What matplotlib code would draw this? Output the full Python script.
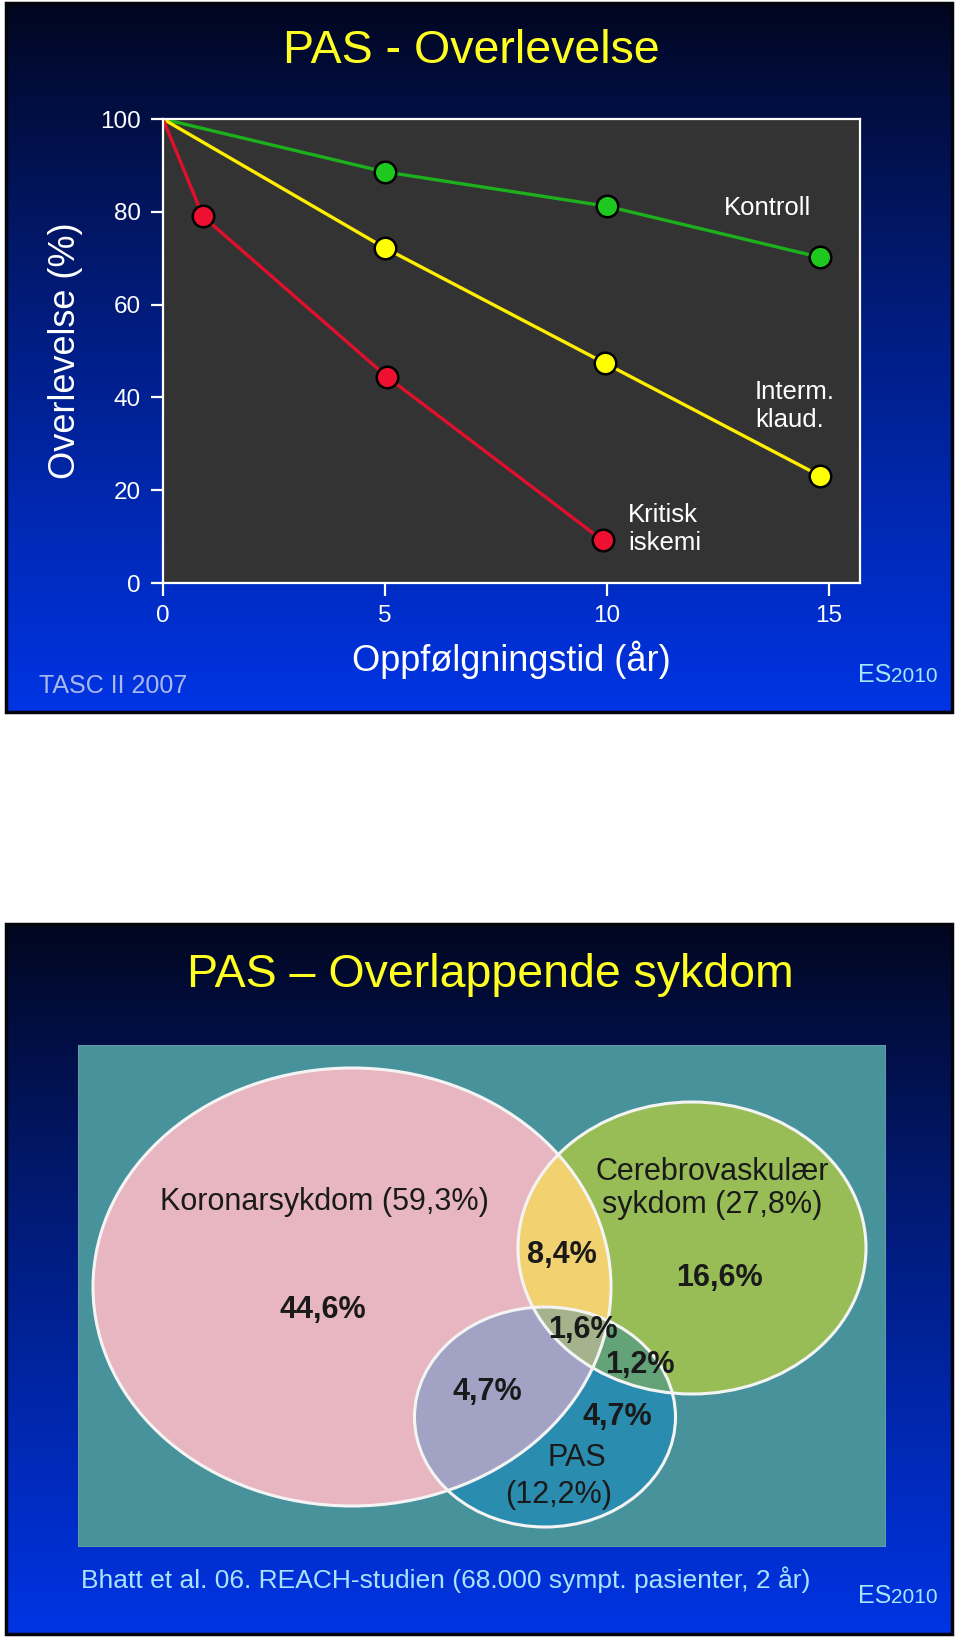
import numpy as np
import matplotlib
matplotlib.use('Agg')
import matplotlib.pyplot as plt
from matplotlib.patches import Ellipse, Rectangle

plt.rcParams['font.family'] = ['Liberation Sans', 'DejaVu Sans']

W, H = 960, 1641

# slide 1: survival (%) vs follow-up time (years)
kontroll_x = [0, 5, 10, 14.8]
kontroll_y = [100, 88.6, 81.2, 70.2]
interm_x = [0, 5, 9.95, 14.8]
interm_y = [100, 72.2, 47.4, 23.1]
kritisk_x = [0, 0.9, 5.05, 9.9]
kritisk_y = [100, 79.0, 44.4, 9.2]
x_ticks = [0, 5, 10, 15]
y_ticks = [0, 20, 40, 60, 80, 100]
series_names = ['Kontroll', 'Interm.\nklaud.', 'Kritisk\niskemi']

# slide 2: overlapping disease (venn)
set_names = ['Koronarsykdom (59,3%)', 'Cerebrovaskulær\nsykdom (27,8%)', 'PAS\n(12,2%)']
region_labels = ['44,6%', '16,6%', '8,4%', '4,7%', '4,7%', '1,6%', '1,2%']

fig = plt.figure(figsize=(W / 100, H / 100), dpi=100)
fig.patch.set_facecolor('white')


def px_axes(x, y, w, h, **kw):
    return fig.add_axes([x / W, 1 - (y + h) / H, w / W, h / H], **kw)


def ftext(x, y, s, **kw):
    return fig.text(x / W, 1 - y / H, s, **kw)


def slide(y0, h):
    ax = px_axes(6, y0, 946, h)
    t = np.linspace(0, 1, 256) ** 0.9
    top = np.array([2, 6, 30]) / 255
    bot = np.array([0, 52, 228]) / 255
    grad = top[None, :] * (1 - t[:, None]) + bot[None, :] * t[:, None]
    ax.imshow(grad[:, None, :], aspect='auto', extent=(0, 1, 1, 0))
    ax.set_xlim(0, 1)
    ax.set_ylim(1, 0)
    ax.set_axis_off()
    ax.add_patch(Rectangle((0, 0), 1, 1, transform=ax.transAxes, fill=False,
                           ec='#04040c', lw=2.5, clip_on=False))
    return ax


def es_mark(y_base):
    ftext(891, y_base, 'ES', color='#a6e6ff', fontsize=18, ha='right', va='baseline')
    ftext(891, y_base, '2010', color='#a6e6ff', fontsize=15, ha='left', va='baseline')


# ---------------- slide 1 ----------------
slide(3, 709)
ftext(471, 63, 'PAS - Overlevelse', color='#ffff22', fontsize=33.5, ha='center', va='baseline')

ax = px_axes(163, 119, 697, 464)
ax.set_facecolor('#333333')
ax.plot(kontroll_x, kontroll_y, color='#1cb01c', lw=2.4, zorder=2)
ax.plot(interm_x, interm_y, color='#ffee00', lw=2.4, zorder=2)
ax.plot(kritisk_x, kritisk_y, color='#e0102c', lw=2.4, zorder=2)
mk = dict(ls='none', marker='o', ms=15.5, mec='black', mew=1.8, zorder=3)
ax.plot(kontroll_x[1:], kontroll_y[1:], mfc='#1ec81e', **mk)
ax.plot(interm_x[1:], interm_y[1:], mfc='#ffff00', **mk)
ax.plot(kritisk_x[1:], kritisk_y[1:], mfc='#ee1030', **mk)

ax.set_xlim(0, 15.7)
ax.set_ylim(0, 100)
ax.set_xticks(x_ticks)
ax.set_yticks(y_ticks)
for s in ax.spines.values():
    s.set_color('white')
    s.set_linewidth(1.6)
ax.tick_params(colors='white', direction='out', length=9, width=1.6,
               labelsize=17.5, pad=7)
ax.set_xlabel('Oppfølgningstid (år)', color='white', fontsize=26, va='center')
ax.xaxis.set_label_coords(0.5, -0.166)
ax.set_ylabel('Overlevelse (%)', color='white', fontsize=26, va='center')
ax.yaxis.set_label_coords(-0.1406, 0.5)

# series labels (line by line)
label_pos = [[(12.64, 80.9)], [(13.33, 41.2), (13.33, 35.2)], [(10.47, 14.7), (10.47, 8.7)]]
for name, pos in zip(series_names, label_pos):
    for line, (lx, ly) in zip(name.split('\n'), pos):
        ax.text(lx, ly, line, color='white', fontsize=18.5, ha='left', va='center')

ftext(39, 693, 'TASC II 2007', color='#aab8f0', fontsize=18, ha='left', va='baseline')
es_mark(682)

# ---------------- slide 2 ----------------
slide(924, 710)
ftext(490, 987, 'PAS – Overlappende sykdom', color='#ffff22', fontsize=33.5, ha='center', va='baseline')

vx0, vy0, vw, vh = 78, 1045, 808, 502
vax = px_axes(vx0, vy0, vw, vh)
vax.set_xlim(vx0, vx0 + vw)
vax.set_ylim(vy0 + vh, vy0)
vax.set_axis_off()

ellipses = [(352, 1287, 259, 219), (692, 1248, 174, 146), (545, 1417, 130.5, 110)]
palette = np.array([
    [72, 146, 156],   # none (background)
    [232, 182, 193],  # koronar
    [152, 190, 86],   # cerebro
    [242, 210, 112],  # koronar + cerebro
    [42, 140, 174],   # PAS
    [162, 162, 196],  # koronar + PAS
    [100, 164, 120],  # cerebro + PAS
    [166, 180, 140],  # all three
]) / 255
xs = np.linspace(vx0, vx0 + vw, vw * 2)
ys = np.linspace(vy0, vy0 + vh, vh * 2)
X, Y = np.meshgrid(xs, ys)
code = np.zeros(X.shape, dtype=int)
for i, (cx, cy, a, b) in enumerate(ellipses):
    code += ((((X - cx) / a) ** 2 + ((Y - cy) / b) ** 2) <= 1).astype(int) * (1 << i)
vax.imshow(palette[code], extent=(vx0, vx0 + vw, vy0 + vh, vy0), aspect='auto',
           interpolation='antialiased', zorder=1)
for cx, cy, a, b in ellipses:
    vax.add_patch(Ellipse((cx, cy), 2 * a, 2 * b, fill=False, ec='#f4f4f4', lw=2.2, zorder=2))
vax.add_patch(Rectangle((0, 0), 1, 1, transform=vax.transAxes, fill=False,
                        ec='#6f9aa8', lw=1.2, zorder=3))

name_pos = [[(324, 1202)], [(712, 1172), (712, 1205)], [(577, 1458), (559, 1495)]]
for name, pos in zip(set_names, name_pos):
    for line, (tx, ty) in zip(name.split('\n'), pos):
        vax.text(tx, ty, line, color='#1a1a1a', fontsize=22, ha='center', va='center', zorder=4)

region_pos = [(323, 1310), (719, 1278), (562, 1255), (487, 1392), (617, 1417), (583, 1330), (640, 1365)]
for lab, (tx, ty) in zip(region_labels, region_pos):
    vax.text(tx, ty, lab, color='#1a1a1a', fontsize=22, fontweight='bold',
             ha='center', va='center', zorder=4)

ftext(81, 1588, 'Bhatt et al. 06. REACH-studien (68.000 sympt. pasienter, 2 år)',
      color='#aae2ff', fontsize=19, ha='left', va='baseline')
es_mark(1603)

fig.savefig('out.png', dpi=100, facecolor=fig.get_facecolor())
